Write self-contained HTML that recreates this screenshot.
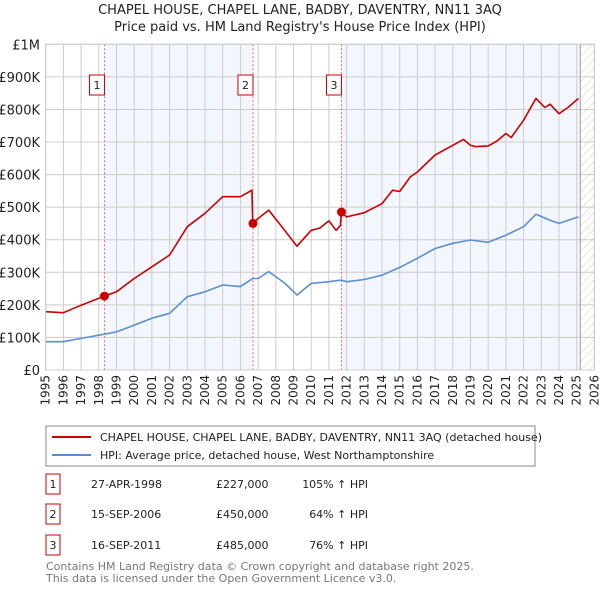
<!DOCTYPE html>
<html><head><meta charset="utf-8"><style>
body{margin:0;background:#fff;font-family:"DejaVu Sans","Liberation Sans",sans-serif;}
svg text{font-family:"DejaVu Sans","Liberation Sans",sans-serif;}
</style></head><body>
<svg id="c" width="600" height="590" xmlns="http://www.w3.org/2000/svg">
<defs><pattern id="hatch" width="6" height="6" patternUnits="userSpaceOnUse" patternTransform="rotate(45)"><line x1="0" y1="0" x2="0" y2="6" stroke="#ccc" stroke-width="1"/></pattern></defs>
<text x="300" y="14" text-anchor="middle" font-size="13" fill="#222">CHAPEL HOUSE, CHAPEL LANE, BADBY, DAVENTRY, NN11 3AQ</text>
<text x="300" y="31" text-anchor="middle" font-size="13" fill="#222">Price paid vs. HM Land Registry's House Price Index (HPI)</text>
<g id="plot"></g>
<g>
<rect x="46" y="426" width="489" height="40" fill="#fff" stroke="#888"/>
<line x1="52" y1="437" x2="91" y2="437" stroke="#cc0000" stroke-width="2"/>
<text x="100" y="441" font-size="11" fill="#222">CHAPEL HOUSE, CHAPEL LANE, BADBY, DAVENTRY, NN11 3AQ (detached house)</text>
<line x1="52" y1="455" x2="91" y2="455" stroke="#5b8fd4" stroke-width="2"/>
<text x="100" y="459" font-size="11" fill="#222">HPI: Average price, detached house, West Northamptonshire</text>
</g>
<g font-size="11" fill="#222">
<rect x="46" y="474" width="14" height="20" fill="#fff" stroke="#cc0000"/><text x="53" y="488" text-anchor="middle">1</text>
<text x="91" y="488">27-APR-1998</text><text x="216" y="488">£227,000</text><text x="368" y="488" text-anchor="end">105% ↑ HPI</text>
<rect x="46" y="504" width="14" height="20" fill="#fff" stroke="#cc0000"/><text x="53" y="518" text-anchor="middle">2</text>
<text x="91" y="518">15-SEP-2006</text><text x="216" y="518">£450,000</text><text x="368" y="518" text-anchor="end">64% ↑ HPI</text>
<rect x="46" y="535" width="14" height="20" fill="#fff" stroke="#cc0000"/><text x="53" y="549" text-anchor="middle">3</text>
<text x="91" y="549">16-SEP-2011</text><text x="216" y="549">£485,000</text><text x="368" y="549" text-anchor="end">76% ↑ HPI</text>
</g>
<text x="46" y="570" font-size="11" fill="#777">Contains HM Land Registry data © Crown copyright and database right 2025.</text>
<text x="46" y="582" font-size="11" fill="#777">This data is licensed under the Open Government Licence v3.0.</text>
</svg>
<script>
const hpiYears=[1995,1996,1997,1998,1999,2000,2001,2002,2003,2004,2005,2006,2006.7,2007,2007.6,2008.5,2009.2,2010,2011,2011.7,2012,2013,2014,2015,2016,2017,2018,2019,2020,2021,2022,2022.7,2023.5,2024,2025.1];
const hpiValues=[87,87,97,107,117,138,159,174,225,240,261,256,281,281,302,267,230,266,271,276,271,278,291,315,343,373,389,399,392,414,440,478,460,450,470];
const priceYears=[1995,1996,1997,1998,1998.3,1999,2000,2001,2002,2003,2004,2005,2006,2006.65,2006.7,2007,2007.6,2008.5,2009.2,2010,2010.5,2011,2011.4,2011.65,2011.7,2012,2013,2014,2014.6,2015,2015.6,2016,2017,2018,2018.6,2019,2019.3,2020,2020.5,2021,2021.3,2022,2022.7,2023.2,2023.5,2024,2024.5,2025.1];
const priceValues=[179,176,199,220,227,240,281,317,353,440,481,532,532,552,450,465,491,429,380,429,436,458,429,443,485,470,483,511,552,548,593,608,660,690,708,690,686,688,703,726,714,767,834,806,816,787,806,834];
const saleYears=[1998.32,2006.71,2011.71];
const saleValues=[227,450,485];
const saleLabels=["1","2","3"];
const yTicks=[0,100,200,300,400,500,600,700,800,900,1000];
const yTickLabels=["£0","£100K","£200K","£300K","£400K","£500K","£600K","£700K","£800K","£900K","£1M"];
const xTicks=[1995,1996,1997,1998,1999,2000,2001,2002,2003,2004,2005,2006,2007,2008,2009,2010,2011,2012,2013,2014,2015,2016,2017,2018,2019,2020,2021,2022,2023,2024,2025,2026];
const dataEnd=2025.2;
const X0=45.7,X1=594.4,Y0=370,Y1=44.3;
const xs=y=>X0+(y-1995)/31*(X1-X0);
const ys=v=>Y0-v/1000*(Y0-Y1);
const NS="http://www.w3.org/2000/svg";
const g=document.getElementById('plot');
function mk(t,a){const e=document.createElementNS(NS,t);for(const k in a)e.setAttribute(k,a[k]);g.appendChild(e);return e;}
let r=mk('rect',{x:xs(saleYears[0]),y:Y1,width:xs(saleYears[1])-xs(saleYears[0]),height:Y0-Y1,fill:'#eef3fc',opacity:0.7});


r=mk('rect',{x:xs(saleYears[2]),y:Y1,width:xs(dataEnd)-xs(saleYears[2]),height:Y0-Y1,fill:'#eef3fc',opacity:0.7});


r=mk('rect',{x:xs(dataEnd),y:Y1,width:X1-xs(dataEnd),height:Y0-Y1,fill:'url(#hatch)'});


xTicks.forEach((t,i)=>{
 const l=mk('line',{x1:xs(t),x2:xs(t),y1:Y1,y2:Y0,stroke:'#cccccc','stroke-width':1});
 
 
 const px=xs(t)+4, py=Y0+5;
 const tx=mk('text',{x:px,y:py,'text-anchor':'end','font-size':12,fill:'#222',transform:'rotate(-90 '+px+' '+py+')'});
 tx.textContent=t;
 
 
});
yTicks.forEach((t,i)=>{
 const l=mk('line',{x1:X0,x2:X1,y1:ys(t),y2:ys(t),stroke:'#cccccc','stroke-width':1});
 
 
 const tx=mk('text',{x:40,y:ys(t)+5,'text-anchor':'end','font-size':13,fill:'#222'});
 tx.textContent=yTickLabels[i];
 
 
});
let el=mk('line',{x1:xs(dataEnd),x2:xs(dataEnd),y1:Y1,y2:Y0,stroke:'#999','stroke-width':1});


saleYears.forEach((s,i)=>{
 const l=mk('line',{x1:xs(s),x2:xs(s),y1:Y1,y2:Y0,stroke:'#ff6666','stroke-width':1,'stroke-dasharray':'2,2'});
 
 
});
function path(xa,va,col,name){
 const d=xa.map((x,i)=>(i?'L':'M')+xs(x).toFixed(1)+','+ys(va[i]).toFixed(1)).join('');
 const p=mk('path',{d:d,fill:'none',stroke:col,'stroke-width':1.6,'stroke-linejoin':'round'});
 
 
}
path(hpiYears,hpiValues,'#5b8fd4','hpi-line');
path(priceYears,priceValues,'#cc0000','price-line');
saleYears.forEach((s,i)=>{
 const c=mk('circle',{cx:xs(s),cy:ys(saleValues[i]),r:4.5,fill:'#cc0000'});
 
 
 const b=mk('rect',{x:xs(s)-15,y:75,width:15,height:20,fill:'#fff',stroke:'#cc0000'});
 
 
 const t=mk('text',{x:xs(s)-7.5,y:89,'text-anchor':'middle','font-size':11,fill:'#222'});
 t.textContent=saleLabels[i];
 
 
});
el=mk('rect',{x:X0,y:Y1,width:X1-X0,height:Y0-Y1,fill:'none',stroke:'#cccccc'});


</script>
</body></html>
